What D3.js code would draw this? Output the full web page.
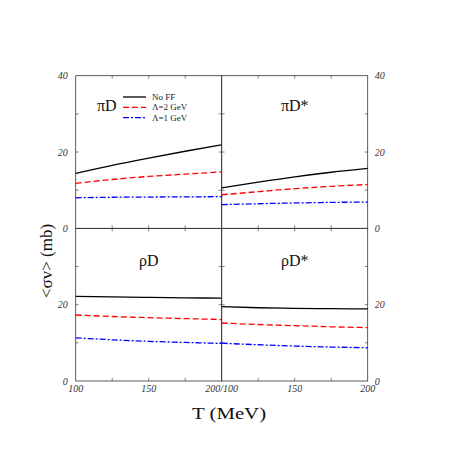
<!DOCTYPE html>
<html>
<head>
<meta charset="utf-8">
<script src="https://cdn.jsdelivr.net/npm/d3@7"></script>
<style>
  body { margin: 0; background: #fff; }
  svg { display: block; }
  text { font-family: "Liberation Serif", "Times New Roman", "DejaVu Serif", serif; }
</style>
</head>
<body>
<svg id="chart" width="457" height="457"></svg>
<script>
// temperatures (MeV)
var temps = [100, 125, 150, 175, 200];

// <sigma v> in mb
var piD_noFF  = [14.4, 16.5, 18.4, 20.2, 21.9];
var piD_L2    = [11.8, 12.8, 13.6, 14.2, 14.8];
var piD_L1    = [8.0, 8.15, 8.2, 8.25, 8.3];

var piDs_noFF = [10.6, 12.1, 13.5, 14.7, 15.7];
var piDs_L2   = [8.8, 9.6, 10.4, 11.0, 11.5];
var piDs_L1   = [6.2, 6.45, 6.65, 6.8, 6.9];

var rhoD_noFF = [22.2, 22.05, 21.9, 21.8, 21.7];
var rhoD_L2   = [17.3, 16.9, 16.6, 16.35, 16.1];
var rhoD_L1   = [11.3, 10.8, 10.4, 10.1, 9.85];

var rhoDs_noFF = [19.5, 19.2, 19.05, 18.95, 18.9];
var rhoDs_L2   = [15.2, 14.8, 14.5, 14.2, 14.0];
var rhoDs_L1   = [9.9, 9.5, 9.15, 8.9, 8.7];

var seriesNames = ["No FF", "\u039B=2 GeV", "\u039B=1 GeV"];
var yTicks = [0, 20, 40];

var panels = [
  {label: "\u03C0D",  col: 0, row: 0, data: [piD_noFF, piD_L2, piD_L1]},
  {label: "\u03C0D*", col: 1, row: 0, data: [piDs_noFF, piDs_L2, piDs_L1]},
  {label: "\u03C1D",  col: 0, row: 1, data: [rhoD_noFF, rhoD_L2, rhoD_L1]},
  {label: "\u03C1D*", col: 1, row: 1, data: [rhoDs_noFF, rhoDs_L2, rhoDs_L1]}
];

var styles = [
  {color: "#000000", dash: null},
  {color: "#ff0000", dash: "6,3"},
  {color: "#0000ff", dash: "6,2,2,2"}
];

var svg = d3.select("#chart");

var plotLeft = 75.7, plotTop = 75.7, pw = 146, ph = 152.65;

panels.forEach(function(p) {
  var x0 = plotLeft + p.col * pw, y0 = plotTop + p.row * ph;
  var x = d3.scaleLinear().domain([100, 200]).range([x0, x0 + pw]);
  var y = d3.scaleLinear().domain([0, 40]).range([y0 + ph, y0]);

  var g = svg.append("g");

  // frame
  g.append("rect")
    .attr("x", x0).attr("y", y0)
    .attr("width", pw).attr("height", ph)
    .attr("fill", "none")
    .attr("stroke", "#333")
    .attr("stroke-width", 0.8);

  // inward ticks on all sides
  [125, 150, 175].forEach(function(t) {
    g.append("line").attr("x1", x(t)).attr("x2", x(t))
      .attr("y1", y0 + ph).attr("y2", y0 + ph - 3)
      .attr("stroke", "#333").attr("stroke-width", 0.6);
    g.append("line").attr("x1", x(t)).attr("x2", x(t))
      .attr("y1", y0).attr("y2", y0 + 3)
      .attr("stroke", "#333").attr("stroke-width", 0.6);
  });
  [10, 20, 30].forEach(function(t) {
    g.append("line").attr("x1", x0).attr("x2", x0 + 3)
      .attr("y1", y(t)).attr("y2", y(t))
      .attr("stroke", "#333").attr("stroke-width", 0.6);
    g.append("line").attr("x1", x0 + pw).attr("x2", x0 + pw - 3)
      .attr("y1", y(t)).attr("y2", y(t))
      .attr("stroke", "#333").attr("stroke-width", 0.6);
  });

  // y tick labels (left column on the left, right column on the right)
  yTicks.forEach(function(t) {
    if (p.row === 1 && t === 40) return;
    g.append("text")
      .attr("x", p.col === 0 ? x0 - 8 : x0 + pw + 7)
      .attr("y", y(t) + 3.5)
      .attr("text-anchor", p.col === 0 ? "end" : "start")
      .attr("font-style", "italic")
      .attr("font-size", "10px").attr("fill", "#333")
      .text(t);
  });

  // x tick labels on the bottom row
  if (p.row === 1) {
    var xl = p.col === 0 ? [100, 150] : [150, 200];
    xl.forEach(function(t) {
      g.append("text")
        .attr("x", x(t)).attr("y", y0 + ph + 11)
        .attr("text-anchor", "middle")
        .attr("font-style", "italic")
        .attr("font-size", "10px").attr("fill", "#333")
        .text(t);
    });
    if (p.col === 0) {
      g.append("text")
        .attr("x", x(200)).attr("y", y0 + ph + 11)
        .attr("text-anchor", "middle")
        .attr("font-style", "italic")
        .attr("font-size", "10px").attr("fill", "#333")
        .text("200/100");
    }
  }

  // curves
  p.data.forEach(function(vals, i) {
    var line = d3.line()
      .x(function(d, j) { return x(temps[j]); })
      .y(function(d) { return y(d); })
      .curve(d3.curveMonotoneX);
    g.append("path")
      .datum(vals)
      .attr("d", line)
      .attr("fill", "none")
      .attr("stroke", styles[i].color)
      .attr("stroke-width", 1.3)
      .attr("stroke-dasharray", styles[i].dash);
  });

  // panel label
  var lx = (p.col === 0 && p.row === 0) ? x0 + 31 : x0 + pw / 2;
  g.append("text")
    .attr("x", lx).attr("y", p.row === 0 ? y0 + 35 : y0 + 38)
    .attr("text-anchor", "middle")
    .attr("font-size", "16px").attr("fill", "#111")
    .text(p.label);
});

// legend in the first panel
seriesNames.forEach(function(name, i) {
  var ly = 97 + i * 10.3;
  svg.append("line")
    .attr("x1", 123).attr("x2", 146)
    .attr("y1", ly).attr("y2", ly)
    .attr("stroke", styles[i].color)
    .attr("stroke-width", 1.3)
    .attr("stroke-dasharray", styles[i].dash);
  svg.append("text")
    .attr("x", 152).attr("y", ly + 3)
    .attr("font-size", "9px").attr("fill", "#222")
    .text(name);
});

// axis titles
svg.append("text")
  .attr("transform", "translate(52,261) rotate(-90)")
  .attr("text-anchor", "middle")
  .attr("font-size", "17px").attr("fill", "#111")
  .text("<\u03C3v> (mb)");

svg.append("text")
  .attr("transform", "translate(229,419) scale(1.3,1)")
  .attr("text-anchor", "middle")
  .attr("font-size", "16px").attr("fill", "#111")
  .text("T (MeV)");
</script>
</body>
</html>
